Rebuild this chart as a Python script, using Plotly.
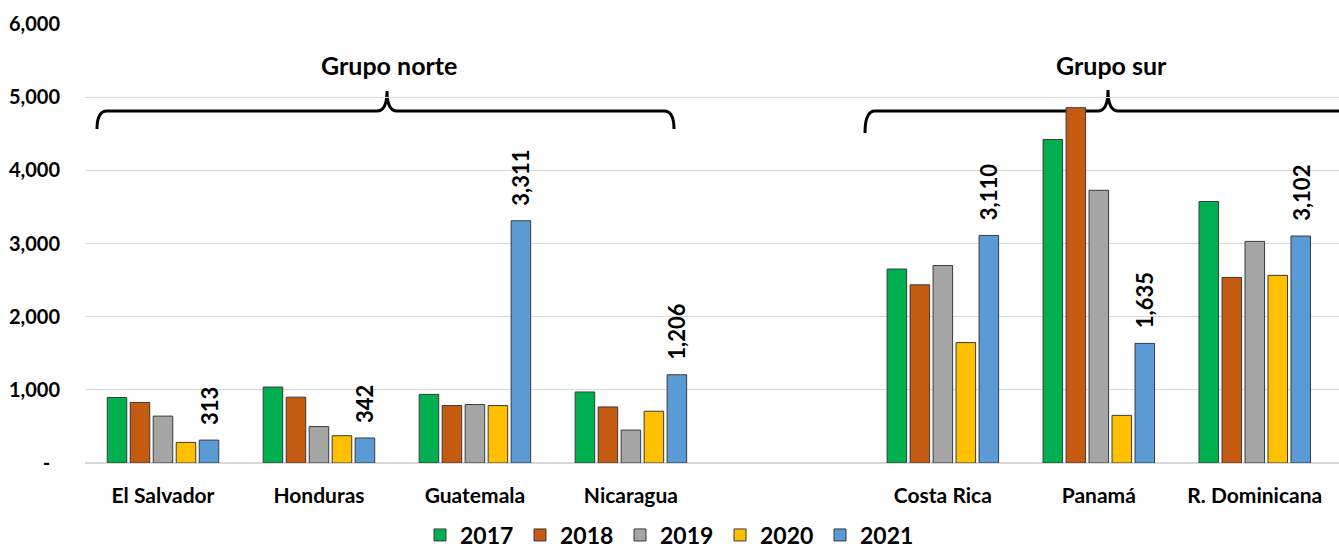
import plotly.graph_objects as go

categories = ["El Salvador", "Honduras", "Guatemala", "Nicaragua", " ",
              "Costa Rica", "Panamá", "R. Dominicana"]
years = ["2017", "2018", "2019", "2020", "2021"]
v2017 = [895, 1038, 938, 971, None, 2651, 4421, 3574]
v2018 = [828, 900, 785, 766, None, 2435, 4856, 2536]
v2019 = [641, 498, 799, 450, None, 2699, 3727, 3029]
v2020 = [282, 373, 785, 708, None, 1646, 651, 2565]
v2021 = [313, 342, 3311, 1206, None, 3110, 1635, 3102]
series = [v2017, v2018, v2019, v2020, v2021]
colors = ["#00B050", "#C55A11", "#A5A5A5", "#FFC000", "#5B9BD5"]
ytickvals = [0, 1000, 2000, 3000, 4000, 5000, 6000]
yticktext = ["-\u00a0\u00a0", "1,000", "2,000", "3,000", "4,000", "5,000", "6,000"]
groups = ["Grupo norte", "Grupo sur"]

FONT = "Lato"
W, H = 1339, 548
ML, MR, MT, MB = 85, 0, 24, 85
BARGAP = 0.263

fig = go.Figure()
for name, vals, col in zip(years, series, colors):
    fig.add_trace(go.Bar(
        x=categories, y=vals, name=name,
        marker=dict(color=col, line=dict(color="#3A3A3A", width=1)),
    ))

# data labels for the last series (2021)
offset = 2 * (1 - BARGAP) / 5
for i, v in enumerate(v2021):
    if v is None:
        continue
    fig.add_annotation(
        x=i + offset, y=v, xref="x", yref="y",
        text=f"{v:,.0f}", textangle=-90, showarrow=False,
        xanchor="center", yanchor="bottom", yshift=13,
        font=dict(family=FONT, size=22, color="black", weight="bold"),
    )

# braces (pixel -> paper helpers)
pw = W - ML - MR
ph = H - MT - MB
def px(x):
    return (x - ML) / pw
def py(y):
    return (H - MB - y) / ph

def brace(x0, x1, xt, ytop, yline, yend0, yend1):
    r = 10
    return (f"M {px(x0)},{py(yend0)} Q {px(x0)},{py(yline)} {px(x0 + r)},{py(yline)} "
            f"L {px(xt - r)},{py(yline)} Q {px(xt)},{py(yline)} {px(xt)},{py(ytop)} "
            f"Q {px(xt)},{py(yline)} {px(xt + r)},{py(yline)} "
            f"L {px(x1 - r)},{py(yline)} Q {px(x1)},{py(yline)} {px(x1)},{py(yend1)}")

fig.add_shape(type="path", xref="paper", yref="paper", layer="below",
              path=brace(97, 674, 387, 91, 111, 129, 129),
              line=dict(color="black", width=3))
fig.add_shape(type="path", xref="paper", yref="paper", layer="below",
              path=brace(865, 1400, 1108, 90, 111, 133, 133),
              line=dict(color="black", width=3))

fig.add_annotation(x=px(389), y=py(65), xref="paper", yref="paper",
                   text=groups[0], showarrow=False, xanchor="center", yanchor="middle",
                   font=dict(family=FONT, size=25, color="black", weight="bold"))
fig.add_annotation(x=px(1111), y=py(65), xref="paper", yref="paper",
                   text=groups[1], showarrow=False, xanchor="center", yanchor="middle",
                   font=dict(family=FONT, size=25, color="black", weight="bold"))

fig.update_layout(
    width=W, height=H,
    margin=dict(l=ML, r=MR, t=MT, b=MB, autoexpand=False),
    paper_bgcolor="white", plot_bgcolor="white",
    barmode="group", bargap=BARGAP, bargroupgap=0.15,
    font=dict(family=FONT, color="black", weight="bold"),
    showlegend=True,
    legend=dict(orientation="h", xanchor="left", yanchor="middle",
                x=px(420), y=py(535), entrywidth=55, entrywidthmode="pixels",
                font=dict(family=FONT, size=23, color="black", weight="bold"),
                itemclick=False, traceorder="normal"),
)
fig.update_xaxes(type="category", range=[-0.5, 7.54], showgrid=False,
                 showline=False, ticks="", ticklabelstandoff=18,
                 tickfont=dict(family=FONT, size=21, color="black", weight="bold"))
fig.update_yaxes(range=[0, 6000], tickvals=ytickvals, ticktext=yticktext,
                 showgrid=True, gridcolor="#D9D9D9", gridwidth=1.3,
                 zeroline=True, zerolinecolor="#D9D9D9", zerolinewidth=2,
                 showline=False, ticks="", ticklabelstandoff=24,
                 tickfont=dict(family=FONT, size=20, color="black", weight="bold"))

fig.write_html("out.html")
